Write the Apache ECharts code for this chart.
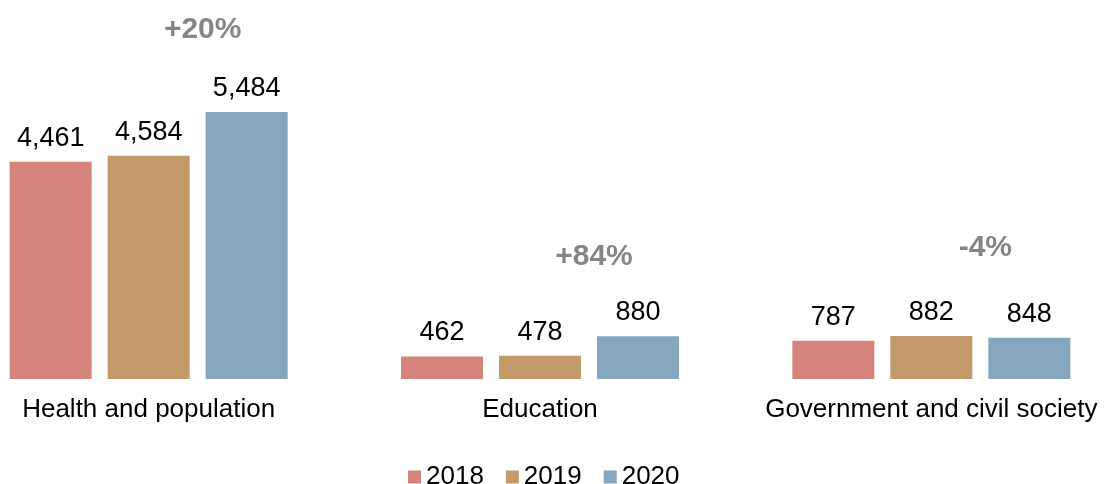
<!DOCTYPE html>
<html>
<head>
<meta charset="utf-8">
<script src="https://cdn.jsdelivr.net/npm/echarts@6/dist/echarts.min.js"></script>
<style>
  html, body { margin: 0; padding: 0; background: #fff; overflow: hidden; width: 1105px; height: 484px; position: relative; }
  /* the groups are spread wider than the window, so the canvas sticks out on both sides */
  #chart { position: absolute; left: -47px; top: 0; width: 1174px; height: 484px; }
</style>
</head>
<body>
<div id="chart"></div>
<script>
// categories and values
const categories = ['Health and population', 'Education', 'Government and civil society']
const years = ['2018', '2019', '2020']
const values2018 = [4461, 462, 787]
const values2019 = [4584, 478, 882]
const values2020 = [5484, 880, 848]
const changeLabels = ['+20%', '+84%', '-4%']
// height (in data units) where each change label sits
const changeLevels = [7170, 2520, 2690]

const colors = ['#d4847a', '#c49a6c', '#84a6bf']
const font = 'Liberation Sans, Arial, sans-serif'

const chart = echarts.init(document.getElementById('chart'))

const barSeries = [values2018, values2019, values2020].map((vals, i) => ({
  name: years[i],
  type: 'bar',
  data: vals,
  barWidth: 82,
  barGap: '19.5%',
  barCategoryGap: '29%',
  itemStyle: { color: colors[i] },
  label: {
    show: true,
    position: 'top',
    distance: 10,
    color: '#000',
    fontSize: 27,
    fontFamily: font,
    formatter: p => p.value.toLocaleString('en-US')
  }
}))

chart.setOption({
  animation: false,
  grid: { left: 0, right: 0, top: 0, bottom: 105 },
  legend: {
    data: years,
    left: 450,
    top: 459,
    itemWidth: 13,
    itemHeight: 13,
    itemGap: 22,
    icon: 'rect',
    textStyle: { fontSize: 26, fontFamily: font, color: '#000' }
  },
  xAxis: {
    type: 'category',
    data: categories,
    axisLine: { show: false },
    axisTick: { show: false },
    axisLabel: { interval: 0, color: '#000', fontSize: 26, fontFamily: font, margin: 18 }
  },
  yAxis: {
    type: 'value',
    min: 0,
    max: 7784,
    show: false,
    splitLine: { show: false }
  },
  series: [
    ...barSeries,
    {
      name: 'change',
      type: 'scatter',
      symbolSize: 0,
      data: changeLevels,
      silent: true,
      label: {
        show: true,
        position: 'inside',
        offset: [54, 0],
        color: '#666666',
        fontWeight: 'bold',
        fontSize: 30,
        fontFamily: font,
        formatter: p => changeLabels[p.dataIndex]
      }
    }
  ]
})
</script>
</body>
</html>
